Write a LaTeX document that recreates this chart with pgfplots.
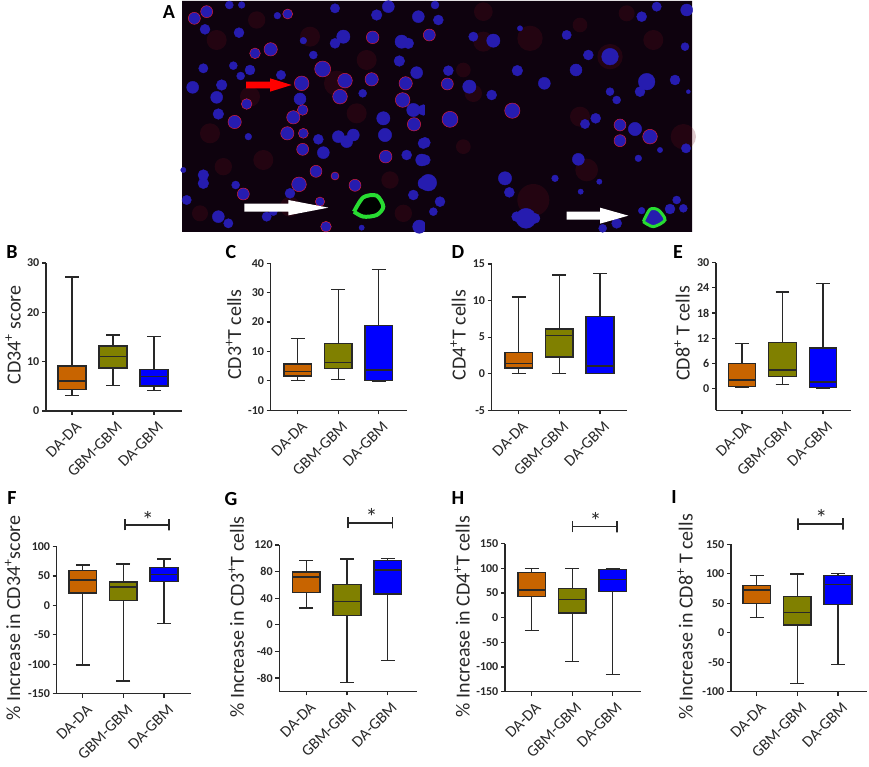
\documentclass[border=0pt]{standalone}
\usepackage{fontspec}
\setmainfont{Carlito}
\usepackage{pgfplots}
\usepackage{pgfplotstable}
\usepgfplotslibrary{statistics}
\pgfplotsset{compat=1.18}
\definecolor{ora}{RGB}{200,100,0}
\definecolor{oli}{RGB}{128,128,0}
\definecolor{blu}{RGB}{0,0,255}
\definecolor{ink}{RGB}{40,40,40}
\definecolor{nuc}{RGB}{38,28,175}
\definecolor{rim}{RGB}{240,30,50}
\definecolor{tissue}{RGB}{14,2,14}
\definecolor{haze}{RGB}{110,15,30}
\definecolor{vess}{RGB}{40,220,50}

% panel A, positions in the 3x crops: x y r
\pgfplotstableread{
x y r
238 15 12
275 15 10
165 88 15
267 98 15
128 262 18
200 292 18
215 255 16
205 342 16
160 205 14
250 197 12
300 210 15
272 228 12
393 225 14
450 297 18
382 47 10
460 122 10
490 165 12
580 110 20
555 130 15
555 25 14
680 45 16
715 20 18
805 50 18
755 125 20
775 130 16
748 183 16
800 218 18
638 280 12
700 355 20
705 405 20
790 330 20
820 330 16
505 418 15
520 458 18
565 410 18
590 425 18
610 405 18
820 430 16
815 480 18
770 465 15
822 550 18
790 585 15
295 410 10
160 525 16
160 550 16
257 555 12
100 510 8
110 600 14
205 650 18
235 670 14
350 650 14
370 635 12
420 580 15
635 683 8
808 680 20
830 100 12
}\leftplain
\pgfplotstableread{
x y r
133 55 18
170 35 18
362 148 20
315 160 16
518 207 24
585 242 22
665 238 20
455 250 22
570 290 22
767 250 20
758 300 22
792 373 20
290 312 16
254 366 20
430 352 20
458 330 16
412 400 20
460 400 15
458 448 18
707 470 19
498 514 18
280 582 18
447 553 22
668 112 19
413 42 15
615 556 18
510 605 14
555 528 12
528 680 16
}\leftring
\pgfplotstableread{
x y r
45 15 12
55 60 15
0 50 15
160 110 14
85 212 15
10 220 12
148 260 20
215 285 15
292 212 16
373 250 18
440 105 14
505 165 15
468 210 18
680 245 25
660 275 15
570 275 12
590 300 12
765 240 15
795 140 12
800 30 18
665 50 15
710 20 14
805 275 6
495 372 14
527 355 15
645 387 20
10 325 15
15 428 16
15 480 16
25 548 25
60 605 15
40 635 12
255 535 20
268 577 15
318 655 30
290 650 15
345 655 15
405 535 10
475 478 18
655 475 10
538 545 8
482 575 8
590 670 15
548 685 12
665 632 10
750 627 15
770 600 12
790 625 12
798 445 14
720 450 8
300 85 8
220 122 20
570 170 25
}\rightplain
\pgfplotstableread{
x y r
82 252 18
90 358 24
277 332 23
600 375 18
690 410 22
28 105 18
600 422 18
}\rightring
\pgfplotstableread{
x y r
330 115 38
130 210 22
480 75 22
190 35 28
620 40 24
190 125 30
570 170 38
790 410 38
500 510 34
340 600 48
160 280 26
700 120 30
130 440 22
480 350 30
}\righthaze
\pgfplotstableread{
x y r
200 120 30
320 60 26
480 110 30
650 180 30
300 290 30
560 250 38
180 400 30
340 480 30
220 500 26
620 340 30
720 540 26
420 620 30
150 640 24
760 640 26
}\lefthaze

\tikzset{starry/.style={font=\fontsize{24}{24}\selectfont, text=ink}}
\pgfplotsset{
  cell/.style 2 args={only marks, scatter, mark=*,
    scatter/use mapped color={draw=#1, fill=#2},
    visualization depends on={\thisrow{r}/3 \as \rad},
    scatter/@pre marker code/.append style={/tikz/mark size=\rad, /tikz/line width=1.3pt}},
  micro/.style={scale only axis, hide axis, y dir=reverse, clip=true, anchor=south west},
  micl/.style={micro, at={(182pt,535pt)}, width=243pt, height=231pt, xmin=96, xmax=825, ymin=3, ymax=696},
  micr/.style={micro, at={(425pt,535pt)}, width=267pt, height=231pt, xmin=15, xmax=816, ymin=3, ymax=696},
  pan/.style={scale only axis, anchor=south west, axis lines=left, axis line style={-, ink, line width=1.4pt},
    xtick={0,1,2}, xticklabels={DA-DA,GBM-GBM,DA-GBM},
    x tick label style={rotate=45, anchor=north east, font=\fontsize{16}{16}\selectfont, text=ink, inner sep=3.5pt, xshift=1.5pt, yshift=-2.5pt},
    y tick label style={font=\bfseries\fontsize{12}{12}\selectfont, text=ink, inner sep=2.5pt},
    /pgf/number format/assume math mode=true,
    tick style={ink, line width=1.2pt}, major tick length=4pt, tick align=outside,
    scaled y ticks=false, clip=false,
    ylabel style={at={(axis description cs:0,0.5)}, anchor=center, font=\fontsize{20}{20}\selectfont, text=ink}},
  pick/.style={draw=ink, line width=1.6pt},
}
\newcommand{\bx}[7]{\addplot[boxplot/draw direction=y, boxplot prepared={draw position=#1, lower whisker=#2, lower quartile=#3,
    median=#4, upper quartile=#5, upper whisker=#6, box extend=0.68, whisker extend=0.34},
    draw=ink, fill=#7, solid, line width=1.4pt] coordinates {};}
\newcommand{\letter}[3]{\node[font=\bfseries\fontsize{20}{20}\selectfont, text=black] at (#1pt,767pt-#2pt) {#3};}

\begin{document}
\begin{tikzpicture}
\useasboundingbox (0pt,0pt) rectangle (869pt,767pt);

% panel A: micrograph sketched as cells, two halves in their crop coordinates
\begin{axis}[micl]
  \addplot[fill=tissue, draw=none] coordinates {(96,3)(825,3)(825,696)(96,696)} \closedcycle;
  \addplot[cell={none}{haze}, mark options={fill opacity=0.22, draw opacity=0}] table[x=x,y=y] \lefthaze;
  \addplot[cell={nuc}{nuc}] table[x=x,y=y] \leftplain;
  \addplot[cell={rim}{nuc}] table[x=x,y=y] \leftring;
\end{axis}
\begin{axis}[micr]
  \addplot[fill=tissue, draw=none] coordinates {(15,3)(816,3)(816,696)(15,696)} \closedcycle;
  \addplot[cell={none}{haze}, mark options={fill opacity=0.22, draw opacity=0}] table[x=x,y=y] \righthaze;
  \addplot[cell={nuc}{nuc}] table[x=x,y=y] \rightplain;
  \addplot[cell={rim}{nuc}] table[x=x,y=y] \rightring;
\end{axis}
% vessels and arrows go in a second pair of axes, since marks are drawn last
\begin{axis}[micl]
  \addplot[draw=vess, fill=black, line width=4pt, smooth] coordinates {(612,635)(640,592)(680,587)(700,620)(680,645)(640,650)(612,635)};
  \addplot[fill=red, draw=none] coordinates {(288,245)(360,245)(360,235)(425,255)(360,275)(360,265)(288,265)(288,245)};
  \addplot[fill=white, draw=none] coordinates {(283,611)(415,611)(415,600)(535,623)(415,646)(415,635)(283,635)(283,611)};
\end{axis}
\begin{axis}[micr]
  \addplot[draw=vess, fill=nuc, line width=3pt, smooth] coordinates {(670,665)(690,628)(715,630)(735,660)(700,680)(670,665)};
  \addplot[fill=white, draw=none] coordinates {(440,635)(540,635)(540,623)(625,647)(540,671)(540,659)(440,659)(440,635)};
\end{axis}

% top row
\begin{axis}[pan, at={(46pt,356pt)}, width=136pt, height=148pt, xmin=-0.634, xmax=2.683, ymin=0, ymax=30,
    ytick={0,10,20,30}, ylabel={CD34\textsuperscript{+} score}, ylabel style={yshift=33pt, xshift=2pt}]
  \bx{0}{3.1}{4.3}{6.1}{9.1}{27.2}{ora}
  \bx{1}{5.2}{8.7}{11.0}{13.2}{15.4}{oli}
  \bx{2}{4.1}{5.1}{7.0}{8.4}{15.1}{blu}
\end{axis}
\begin{axis}[pan, at={(270.7pt,356.7pt)}, width=136.6pt, height=147pt, xmin=-0.667, xmax=2.706, ymin=-10, ymax=40,
    ytick={-10,0,10,20,30,40}, ylabel={CD3\textsuperscript{+}T cells}, ylabel style={yshift=37pt, xshift=2pt}]
  \bx{0}{0.2}{1.6}{3.1}{5.7}{14.4}{ora}
  \bx{1}{0.5}{4.3}{6.3}{12.8}{31}{oli}
  \bx{2}{0}{0.1}{3.7}{18.8}{37.9}{blu}
\end{axis}
\begin{axis}[pan, at={(491.7pt,356.7pt)}, width=135.6pt, height=146.3pt, xmin=-0.664, xmax=2.672, ymin=-5, ymax=15,
    ytick={-5,0,5,10,15}, ylabel={CD4\textsuperscript{+}T cells}, ylabel style={yshift=33.7pt, xshift=2pt}]
  \bx{0}{0}{0.8}{1.4}{2.9}{10.5}{ora}
  \bx{1}{0}{2.3}{5.2}{6.1}{13.5}{oli}
  \bx{2}{0}{0}{1.05}{7.8}{13.7}{blu}
\end{axis}
\begin{axis}[pan, at={(716pt,356.7pt)}, width=134.7pt, height=147.6pt, xmin=-0.642, xmax=2.684, ymin=-5.2, ymax=30,
    ytick={0,6,12,18,24,30}, ylabel={CD8\textsuperscript{+} T cells}, ylabel style={yshift=34pt, xshift=3pt}]
  \bx{0}{0.25}{0.5}{2}{6}{10.7}{ora}
  \bx{1}{0.9}{2.9}{4.4}{11}{23}{oli}
  \bx{2}{0.1}{0.3}{1.5}{9.7}{25}{blu}
\end{axis}

% bottom row, with the brackets from pgfplots' own coordinates
\begin{axis}[pan, at={(56.7pt,73.3pt)}, width=134.6pt, height=147pt, xmin=-0.64, xmax=2.672, ymin=-150, ymax=100,
    ytick={-150,-100,-50,0,50,100}, ylabel={\% Increase in CD34\textsuperscript{+}score}, ylabel style={yshift=44pt, xshift=2pt}]
  \bx{0}{-101}{21}{43.6}{59.5}{68.6}{ora}
  \bx{1}{-128.7}{9}{31.7}{39.7}{70.9}{oli}
  \bx{2}{-30.6}{40.8}{52.7}{64.6}{79.4}{blu}
  \addplot[pick] coordinates {(1.04,127.6)(1.04,146.8)(1.04,137.2)(2.13,137.2)(2.13,127.6)(2.13,146.8)};
  \node[starry] at (axis cs:1.6,146) {*};
\end{axis}
\begin{axis}[pan, at={(279.3pt,75.7pt)}, width=137.4pt, height=146.3pt, xmin=-0.663, xmax=2.713, ymin=-100, ymax=120,
    ytick={-80,-40,0,40,80,120}, ylabel={\% Increase in CD3\textsuperscript{+}T cells}, ylabel style={yshift=43pt, xshift=1pt}]
  \bx{0}{25}{49}{72}{79.5}{97}{ora}
  \bx{1}{-86.5}{14}{35}{60.5}{99}{oli}
  \bx{2}{-54}{46.5}{82.5}{97}{100}{blu}
  \addplot[pick] coordinates {(1.03,145)(1.03,162)(1.03,153.5)(2.12,153.5)(2.12,145)(2.12,162)};
  \node[starry] at (axis cs:1.607,162.5) {*};
\end{axis}
\begin{axis}[pan, at={(505pt,75.3pt)}, width=135.7pt, height=148pt, xmin=-0.659, xmax=2.691, ymin=-150, ymax=150,
    ytick={-150,-100,-50,0,50,100,150}, ylabel={\% Increase in CD4\textsuperscript{+}T cells}, ylabel style={yshift=43pt, xshift=1pt}]
  \bx{0}{-25.7}{43}{56}{92}{100}{ora}
  \bx{1}{-89}{9.5}{36.5}{59.5}{100}{oli}
  \bx{2}{-115.5}{52.7}{77.7}{98}{100}{blu}
  \addplot[pick] coordinates {(1.01,173)(1.01,196)(1.01,184.5)(2.11,184.5)(2.11,173)(2.11,196)};
  \node[starry] at (axis cs:1.58,196) {*};
\end{axis}
\begin{axis}[pan, at={(731pt,75.3pt)}, width=135.7pt, height=147.4pt, xmin=-0.632, xmax=2.706, ymin=-100, ymax=150,
    ytick={-100,-50,0,50,100,150}, ylabel={\% Increase in CD8\textsuperscript{+} T cells}, ylabel style={yshift=46pt, xshift=1pt}]
  \bx{0}{25.5}{49.8}{72.4}{80}{97}{ora}
  \bx{1}{-86.5}{13}{34.5}{61}{99.5}{oli}
  \bx{2}{-53.7}{47.5}{82}{97}{100}{blu}
  \addplot[pick] coordinates {(1.023,174.8)(1.023,194)(1.023,184.4)(2.116,184.4)(2.116,174.8)(2.116,194)};
  \node[starry] at (axis cs:1.59,195) {*};
\end{axis}

\letter{169}{12}{A}
\letter{12}{252}{B}
\letter{231}{252}{C}
\letter{458}{252}{D}
\letter{678}{252}{E}
\letter{12}{498}{F}
\letter{231}{499}{G}
\letter{458}{498}{H}
\letter{674}{497}{I}
\end{tikzpicture}
\end{document}
